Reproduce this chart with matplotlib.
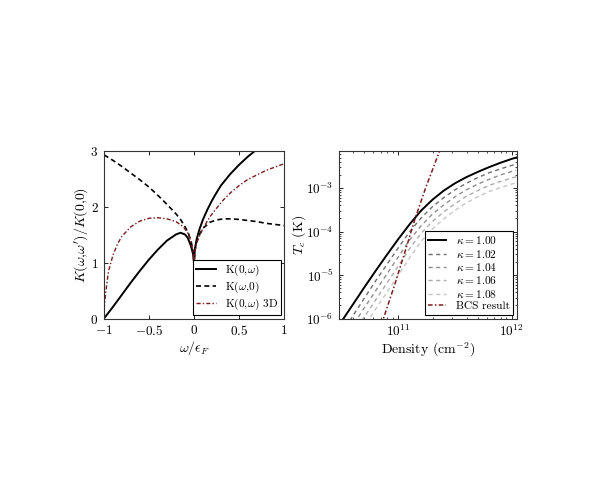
import numpy as np
import matplotlib
matplotlib.use("Agg")
import matplotlib.pyplot as plt
from matplotlib.ticker import LogLocator, NullFormatter, FixedLocator

plt.rcParams['font.family'] = 'serif'
plt.rcParams['font.serif'] = ['cmr10', 'DejaVu Serif']
plt.rcParams['mathtext.fontset'] = 'cm'
plt.rcParams['axes.formatter.use_mathtext'] = True
plt.rcParams['axes.unicode_minus'] = True

# ---------------- left panel data ----------------
omega_solid = [-1.0, -0.9, -0.8, -0.7, -0.6, -0.5, -0.4, -0.3, -0.2, -0.15, -0.1, -0.07,
               -0.04, -0.02, -0.01, 0.0, 0.01, 0.03, 0.06, 0.1, 0.15, 0.2, 0.25, 0.3, 0.4,
               0.5, 0.6, 0.7, 0.75]
k_solid = [0.0, 0.21, 0.43, 0.65, 0.86, 1.06, 1.24, 1.40, 1.51, 1.54, 1.51, 1.45,
           1.33, 1.22, 1.15, 1.0, 1.25, 1.43, 1.60, 1.78, 1.96, 2.12, 2.26, 2.39, 2.59,
           2.76, 2.91, 3.04, 3.10]

omega_dashed = [-1.0, -0.9, -0.8, -0.7, -0.6, -0.5, -0.4, -0.3, -0.2, -0.15, -0.1, -0.06,
                -0.03, -0.01, 0.0, 0.01, 0.03, 0.067, 0.1, 0.178, 0.25, 0.326, 0.4, 0.5,
                0.6, 0.7, 0.8, 0.9, 1.0]
k_dashed = [2.94, 2.84, 2.73, 2.61, 2.49, 2.36, 2.21, 2.05, 1.88, 1.78, 1.65, 1.52,
            1.37, 1.20, 1.0, 1.22, 1.38, 1.53, 1.62, 1.73, 1.77, 1.79, 1.79, 1.78,
            1.76, 1.74, 1.71, 1.69, 1.67]

omega_3d = [-1.0, -0.995, -0.98, -0.95, -0.9, -0.85, -0.8, -0.7, -0.6, -0.5, -0.4, -0.3,
            -0.2, -0.12, -0.07, -0.04, -0.02, -0.01, 0.0, 0.01, 0.03, 0.067, 0.1, 0.178,
            0.25, 0.326, 0.4, 0.51, 0.6, 0.7, 0.8, 0.9, 1.0]
k_3d = [0.0, 0.24, 0.48, 0.85, 1.14, 1.34, 1.48, 1.65, 1.75, 1.80, 1.81, 1.79,
        1.74, 1.65, 1.54, 1.42, 1.28, 1.18, 1.0, 1.20, 1.36, 1.50, 1.62, 1.83,
        1.98, 2.13, 2.25, 2.40, 2.50, 2.58, 2.66, 2.72, 2.78]

# ---------------- right panel data (log10 values) ----------------
log_density = [10.5, 10.6, 10.7, 10.8, 10.9, 11.0, 11.1, 11.2, 11.3, 11.4, 11.5, 11.6,
               11.7, 11.8, 11.9, 12.0, 12.04]
log_tc_100 = [-6.06, -5.67, -5.28, -4.90, -4.53, -4.17, -3.83, -3.52, -3.27, -3.06, -2.89,
              -2.75, -2.63, -2.52, -2.42, -2.33, -2.30]
log_tc_102 = [-6.35, -5.93, -5.53, -5.13, -4.75, -4.37, -4.00, -3.69, -3.43, -3.22, -3.04,
              -2.89, -2.76, -2.65, -2.56, -2.48, -2.45]
log_tc_104 = [-6.55, -6.15, -5.75, -5.36, -4.97, -4.58, -4.19, -3.87, -3.60, -3.39, -3.20,
              -3.04, -2.91, -2.80, -2.70, -2.62, -2.59]
log_tc_106 = [-6.80, -6.38, -5.96, -5.57, -5.18, -4.79, -4.39, -4.04, -3.77, -3.55, -3.36,
              -3.19, -3.06, -2.94, -2.85, -2.77, -2.74]
log_tc_108 = [-7.00, -6.60, -6.18, -5.78, -5.39, -5.00, -4.60, -4.23, -3.94, -3.71, -3.51,
              -3.34, -3.20, -3.08, -2.99, -2.91, -2.88]
log_density_bcs = [10.85, 10.868, 10.97, 11.06, 11.15, 11.24, 11.353, 11.37]
log_tc_bcs = [-6.15, -6.0, -5.2, -4.45, -3.68, -3.0, -2.22, -2.10]

kappas = ['1.00', '1.02', '1.04', '1.06', '1.08']
kappa_curves = [log_tc_100, log_tc_102, log_tc_104, log_tc_106, log_tc_108]
kappa_colors = ['black', '#6e6e6e', '#8e8e8e', '#ababab', '#c6c6c6']

red = '#7a1c1c'
fs = 9.5
lfs = 8.2

fig = plt.figure(figsize=(6, 5), dpi=100)
ax1 = fig.add_axes([104/600, 1 - 318.5/500, 180/600, 167/500])
ax2 = fig.add_axes([338.5/600, 1 - 318.5/500, 178.5/600, 167/500])

# ----- left -----
ax1.plot(omega_solid, k_solid, color='black', lw=1.4, label=r'K(0,$\omega$)')
ax1.plot(omega_dashed, k_dashed, color='black', lw=1.2, dashes=(3, 2), label=r'K($\omega$,0)')
ax1.plot(omega_3d, k_3d, color=red, lw=1.0, dashes=(3, 1.5, 1, 1.5), label=r'K(0,$\omega$) 3D')
ax1.set_xlim(-1, 1)
ax1.set_ylim(0, 3)
ax1.set_xticks([-1, -0.5, 0, 0.5, 1])
ax1.set_xticklabels(['$-1$', '$-0.5$', '$0$', '$0.5$', '$1$'])
ax1.set_yticks([0, 1, 2, 3])
ax1.set_yticklabels(['$0$', '$1$', '$2$', '$3$'])
ax1.set_xlabel(r'$\omega/\epsilon_F$', fontsize=fs + 0.5, labelpad=1)
ax1.set_ylabel(r"$K(\omega{,}\omega')/K(0{,}0)$", fontsize=fs + 0.5, labelpad=0.5)
leg1 = ax1.legend(loc='lower right', fontsize=lfs, frameon=True, fancybox=False,
                  edgecolor='black', framealpha=1, borderaxespad=0.3,
                  handlelength=1.7, labelspacing=0.15, borderpad=0.25, handletextpad=0.8)
leg1.get_frame().set_linewidth(0.8)

# ----- right -----
density_x = [10 ** v for v in log_density]
for kap, curve, col in zip(kappas, kappa_curves, kappa_colors):
    tc = [10 ** v for v in curve]
    if kap == '1.00':
        ax2.plot(density_x, tc, color=col, lw=1.4, label=r'$\kappa = %s$' % kap)
    else:
        ax2.plot(density_x, tc, color=col, lw=1.0, dashes=(3, 2.5), label=r'$\kappa = %s$' % kap)
ax2.plot([10 ** v for v in log_density_bcs], [10 ** v for v in log_tc_bcs], color=red,
         lw=1.1, dashes=(3, 1.5, 1, 1.5), label='BCS result')
ax2.set_xscale('log')
ax2.set_yscale('log')
ax2.set_xlim(10 ** 10.471, 10 ** 12.047)
ax2.set_ylim(1e-6, 10 ** -2.16)
ax2.xaxis.set_major_locator(FixedLocator([1e11, 1e12]))
ax2.yaxis.set_major_locator(FixedLocator([1e-6, 1e-5, 1e-4, 1e-3]))
ax2.xaxis.set_minor_locator(LogLocator(base=10, subs=np.arange(2, 10), numticks=20))
ax2.yaxis.set_minor_locator(LogLocator(base=10, subs=np.arange(2, 10), numticks=20))
ax2.xaxis.set_minor_formatter(NullFormatter())
ax2.yaxis.set_minor_formatter(NullFormatter())
ax2.set_xlabel(r'Density (cm$^{-2}$)', fontsize=fs + 0.5, labelpad=1)
ax2.set_ylabel(r'$T_c$ (K)', fontsize=fs + 0.5, labelpad=-1.5)
leg2 = ax2.legend(loc='lower right', fontsize=lfs, frameon=True, fancybox=False,
                  edgecolor='black', framealpha=1, borderaxespad=0.35,
                  handlelength=1.6, labelspacing=0.12, borderpad=0.3, handletextpad=0.8)
leg2.get_frame().set_linewidth(0.8)

for ax in (ax1, ax2):
    ax.tick_params(which='both', direction='in', top=True, right=True, labelsize=fs)
    ax.tick_params(which='major', length=3, width=0.6)
    ax.tick_params(which='minor', length=1.6, width=0.5)
    for s in ax.spines.values():
        s.set_linewidth(0.8)
        s.set_color('#333333')
ax1.tick_params(axis='x', which='major', pad=4)
ax1.tick_params(axis='y', which='major', pad=4)
ax2.tick_params(axis='x', which='major', pad=3.5)

fig.savefig('out.png', dpi=100, facecolor='white')
